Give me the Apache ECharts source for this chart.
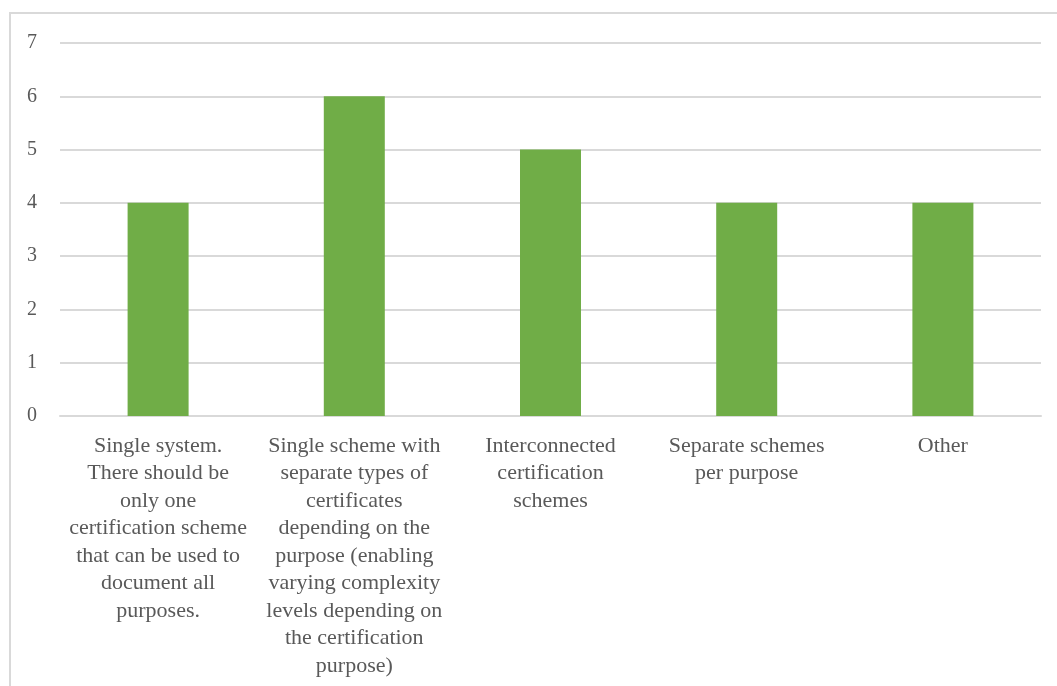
<!DOCTYPE html>
<html><head><meta charset="utf-8">
<script src="https://cdn.jsdelivr.net/npm/echarts@6/dist/echarts.min.js"></script>
<style>html,body{margin:0;padding:0;background:#fff}#c{width:1057px;height:686px}</style>
</head><body><div id="c"></div>
<script>
const categories = [
  "Single system.\nThere should be\nonly one\ncertification scheme\nthat can be used to\ndocument all\npurposes.",
  "Single scheme with\nseparate types of\ncertificates\ndepending on the\npurpose (enabling\nvarying complexity\nlevels depending on\nthe certification\npurpose)",
  "Interconnected\ncertification\nschemes",
  "Separate schemes\nper purpose",
  "Other"
];
const values = [4, 6, 5, 4, 4];
const yTicks = [0, 1, 2, 3, 4, 5, 6, 7];

const chart = echarts.init(document.getElementById('c'), null, {renderer: 'canvas'});
chart.setOption({
  animation: false,
  backgroundColor: '#fff',
  graphic: [{
    type: 'rect', shape: {x: 10, y: 13, width: 1100, height: 700},
    style: {fill: 'none', stroke: '#d9d9d9', lineWidth: 2}, silent: true
  }],
  grid: {left: 60, right: 16, top: 43, bottom: 270, containLabel: false},
  xAxis: {
    type: 'category', data: categories,
    axisLine: {show: true, lineStyle: {color: '#d9d9d9', width: 2}},
    axisTick: {show: false},
    axisLabel: {interval: 0, color: '#595959', fontFamily: 'Liberation Serif', fontSize: 22, lineHeight: 27.5, margin: 16}
  },
  yAxis: {
    type: 'value', min: yTicks[0], max: yTicks[yTicks.length - 1], interval: 1,
    axisLine: {show: false}, axisTick: {show: false},
    splitLine: {lineStyle: {color: '#d9d9d9', width: 2}},
    axisLabel: {color: '#595959', fontFamily: 'Liberation Serif', fontSize: 20, margin: 23}
  },
  series: [{
    type: 'bar', data: values, barWidth: 61,
    itemStyle: {color: '#70ad47'}
  }]
});
</script></body></html>
